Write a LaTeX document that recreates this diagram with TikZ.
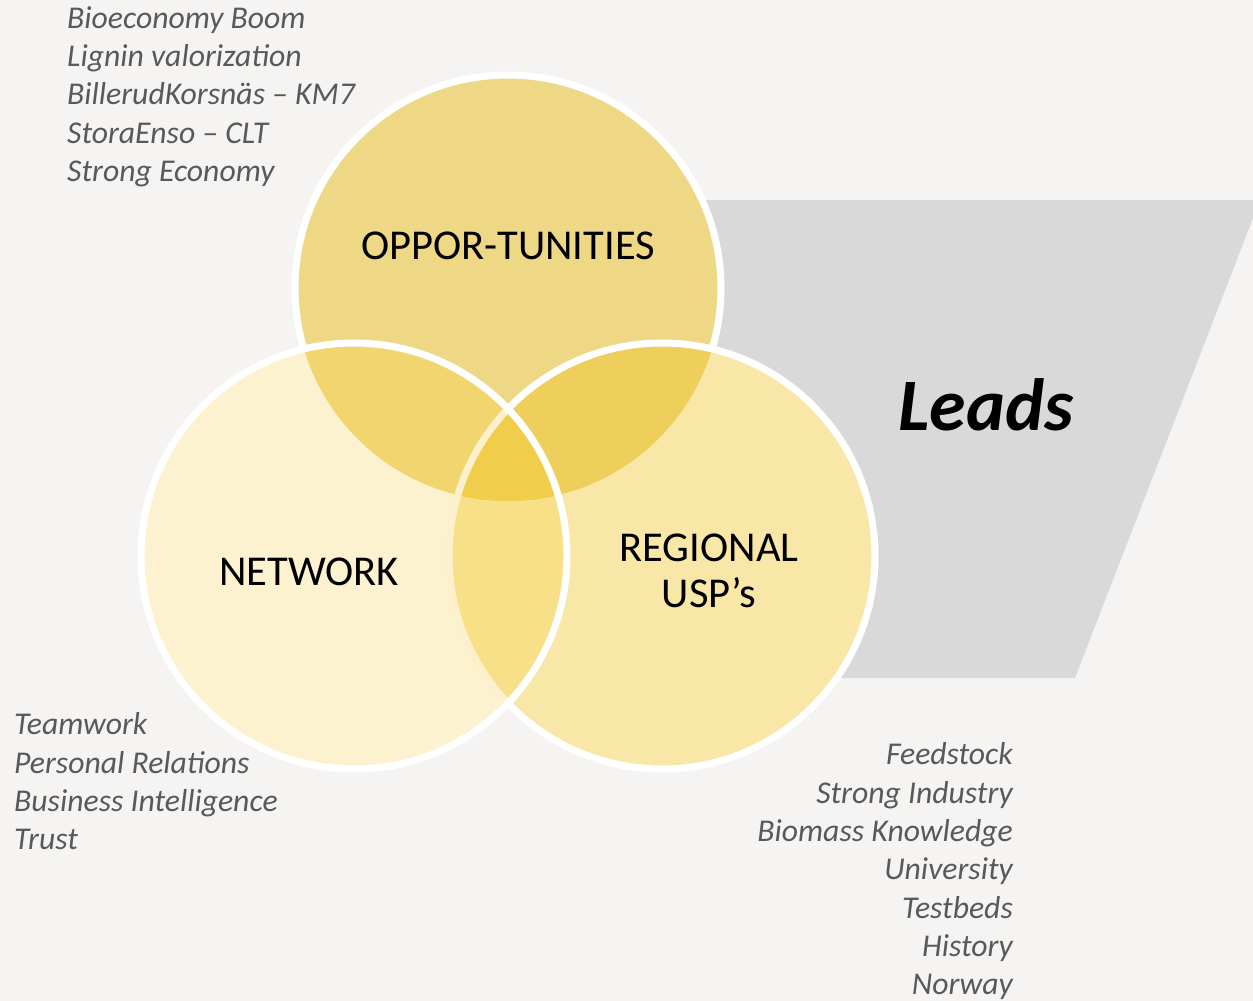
\documentclass[tikz,border=0pt]{standalone}
\usepackage{fontspec}
\setmainfont{Carlito}
\definecolor{bgc}{HTML}{F5F4F2}
\definecolor{graybar}{HTML}{D9D9D9}
\definecolor{ctop}{HTML}{EED885}
\definecolor{cleft}{HTML}{FCF2CF}
\definecolor{cright}{HTML}{F9E7A8}
\definecolor{ctl}{HTML}{F1D66F}
\definecolor{ctr}{HTML}{EECF5B}
\definecolor{clr}{HTML}{F8E089}
\definecolor{ccen}{HTML}{F0CD4A}
\definecolor{paleline}{HTML}{FCF1CC}
\definecolor{sidetext}{HTML}{595959}
\begin{document}
\begin{tikzpicture}[x=1pt,y=-1pt,
  ring/.style={draw=white,line width=7pt},
  circlabel/.style={inner sep=0pt,font=\fontsize{42.5}{46}\selectfont,text=black},
  side/.style={inner sep=0pt,font=\fontsize{31.7}{38}\selectfont\itshape,text=sidetext},
  leftside/.style={side,anchor=base west},
  rightside/.style={side,anchor=base east}]
\useasboundingbox (0,0) rectangle (1253,1001);
\clip (0,0) rectangle (1253,1001);
\fill[bgc] (0,0) rectangle (1253,1001);
\coordinate (T) at (508,288);
\coordinate (L) at (354,556);
\coordinate (R) at (662,556);
% grey funnel
\fill[graybar] (600,200) -- (1260,200) -- (1075,678) -- (600,678) -- cycle;
% region fills
\fill[ctop] (T) circle[radius=213pt];
\fill[cright] (R) circle[radius=213pt];
\fill[cleft] (L) circle[radius=213pt];
\begin{scope}
  \clip (L) circle[radius=213pt];
  \fill[clr] (R) circle[radius=213pt];
\end{scope}
\begin{scope}
  \clip (T) circle[radius=213pt];
  \fill[ctr] (R) circle[radius=213pt];
  \fill[ctl] (L) circle[radius=213pt];
  \clip (R) circle[radius=213pt];
  \fill[ccen] (L) circle[radius=213pt];
\end{scope}
% borders
\begin{scope}[even odd rule]
  \clip (-20,-20) rectangle (1300,1050) (L) circle[radius=213pt];
  \clip (-20,-20) rectangle (1300,1050) (R) circle[radius=213pt];
  \draw[ring] (T) circle[radius=213pt];
\end{scope}
\begin{scope}[even odd rule]
  \clip (-20,-20) rectangle (1300,1050) (L) circle[radius=213pt];
  \draw[ring] (R) circle[radius=213pt];
\end{scope}
\begin{scope}
  \clip (L) circle[radius=213pt];
  \draw[ring,draw=paleline] (R) circle[radius=213pt];
\end{scope}
\draw[ring] (L) circle[radius=213pt];
% circle labels
\node[circlabel,anchor=base] (opp) at (508,259) {OPPOR-TUNITIES};
\node[circlabel,anchor=base] (net) at (309,585) {NETWORK};
\node[circlabel,anchor=base] (reg) at (709,561) {REGIONAL};
\node[circlabel,anchor=base] (usp) at (709,607) {USP’s};
\node[inner sep=0pt,anchor=base,font=\fontsize{74}{80}\selectfont\bfseries\itshape] (leads) at (986,430) {Leads};
% top-left list
\node[leftside] (o1) at (67,28) {Bioeconomy Boom};
\node[leftside] (o2) at (67,66) {Lignin valorization};
\node[leftside] (o3) at (67,104.5) {BillerudKorsnäs – KM7};
\node[leftside] (o4) at (67,143) {StoraEnso – CLT};
\node[leftside] (o5) at (67,181.5) {Strong Economy};
% bottom-left list
\node[leftside] (n1) at (14,734) {Teamwork};
\node[leftside] (n2) at (14,773) {Personal Relations};
\node[leftside] (n3) at (14,811) {Business Intelligence};
\node[leftside] (n4) at (14,849) {Trust};
% bottom-right list
\node[rightside] (r1) at (1013,764) {Feedstock};
\node[rightside] (r2) at (1013,803) {Strong Industry};
\node[rightside] (r3) at (1013,841) {Biomass Knowledge};
\node[rightside] (r4) at (1013,879.5) {University};
\node[rightside] (r5) at (1013,918) {Testbeds};
\node[rightside] (r6) at (1013,956) {History};
\node[rightside] (r7) at (1013,994.5) {Norway};
\end{tikzpicture}
\end{document}
